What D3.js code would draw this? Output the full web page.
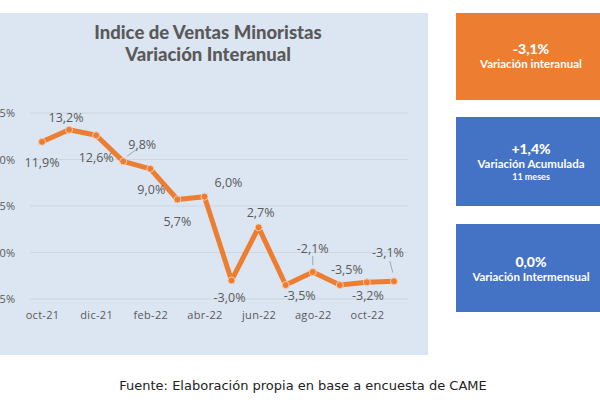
<!DOCTYPE html>
<html><head><meta charset="utf-8">
<script src="https://cdn.jsdelivr.net/npm/d3@7"></script>
<style>body{margin:0;background:#fff}svg{display:block}</style>
</head><body>
<svg id="c" width="600" height="400"></svg>
<script>
const months = ["oct-21","nov-21","dic-21","ene-22","feb-22","mar-22","abr-22","may-22","jun-22","jul-22","ago-22","sep-22","oct-22","nov-22"];
const values = [11.9,13.2,12.6,9.8,9.0,5.7,6.0,-3.0,2.7,-3.5,-2.1,-3.5,-3.2,-3.1];
const yTicks = [-5,0,5,10,15];
const xTickLabels = ["oct-21","dic-21","feb-22","abr-22","jun-22","ago-22","oct-22"];
const titleLines = ["Indice de Ventas Minoristas","Variación Interanual"];
const boxValues = ["-3,1%","+1,4%","0,0%"];
const boxLabels = [["Variación interanual"],["Variación Acumulada","11 meses"],["Variación Intermensual"]];
const source = "Fuente: Elaboración propia en base a encuesta de CAME";
// label placement (dx, dy, leader)
const labelPlacement = [[0,21,0],[-3,-12,0],[0,22,0],[19,-17,1],[1,21,0],[0,22,0],[24,-14,0],[-2,17,0],[2,-15,0],[14,11,0],[0,-23,1],[7,-15,0],[1,13,0],[-6,-29,1]];

const svg = d3.select("#c");
const fmt = v => d3.format(".1f")(v).replace(".", ",").replace("\u2212","-") + "%";

// panel
svg.append("rect").attr("x",0).attr("y",13).attr("width",428).attr("height",342).attr("fill","#dce6f2");

// title
svg.append("g").selectAll("text").data(titleLines).join("text")
  .attr("x",208).attr("y",(d,i)=>39+i*22).attr("text-anchor","middle")
  .attr("font-family","Lato").attr("font-weight","900").attr("font-size",18.5)
  .attr("fill","#595959").text(d=>d);

const x = d3.scalePoint().domain(months).range([42,394]);
const y = d3.scaleLinear().domain([-5,15]).range([299,113]);

// grid
svg.append("g").selectAll("line").data(yTicks).join("line")
  .attr("x1",30).attr("x2",408).attr("y1",d=>y(d)).attr("y2",d=>y(d))
  .attr("stroke","#cfd6de").attr("stroke-width",1);

// y axis
const ya = svg.append("g").attr("transform","translate(15,0)")
  .call(d3.axisLeft(y).tickValues(yTicks).tickSize(0).tickPadding(0).tickFormat(d=>d+"%"));
ya.select(".domain").remove();
ya.selectAll("text").attr("font-family","Open Sans").attr("font-size",11).attr("fill","#595959");

// x axis
const xa = svg.append("g").attr("transform","translate(0,311)")
  .call(d3.axisBottom(x).tickValues(xTickLabels).tickSize(0).tickPadding(0));
xa.select(".domain").remove();
xa.selectAll("text").attr("font-family","Open Sans").attr("font-size",11).attr("fill","#595959").attr("letter-spacing","0.3px");

// line
const data = months.map((m,i)=>({m, v: values[i], p: labelPlacement[i]}));
svg.append("path").datum(data)
  .attr("d", d3.line().x(d=>x(d.m)).y(d=>y(d.v)))
  .attr("fill","none").attr("stroke","#ed7d31").attr("stroke-width",5).attr("stroke-linejoin","round");
svg.append("g").selectAll("circle").data(data).join("circle")
  .attr("cx",d=>x(d.m)).attr("cy",d=>y(d.v)).attr("r",3.5)
  .attr("fill","#ed7d31").attr("stroke","#f8cbad").attr("stroke-width",1);

// leader lines
svg.append("g").selectAll("line").data(data.filter(d=>d.p[2])).join("line")
  .attr("x1",d=>x(d.m)+d.p[0]*0.2).attr("y1",d=>y(d.v)+d.p[1]*0.3)
  .attr("x2",d=>x(d.m)+d.p[0]*0.7).attr("y2",d=>y(d.v)+d.p[1]*0.7)
  .attr("stroke","#a6a6a6").attr("stroke-width",1);

// data labels
svg.append("g").selectAll("text").data(data).join("text")
  .attr("x",d=>x(d.m)+d.p[0]).attr("y",d=>y(d.v)+d.p[1]).attr("dy","0.35em")
  .attr("text-anchor","middle").attr("font-family","Open Sans").attr("font-size",12.5)
  .attr("fill","#595959").text(d=>fmt(d.v));

// boxes
const boxes = [{y:13,h:87,c:"#ed7d31"},{y:117,h:89,c:"#4472c4"},{y:224,h:88,c:"#4472c4"}];
const bg = svg.append("g").selectAll("g").data(boxes).join("g");
bg.append("rect").attr("x",456).attr("y",d=>d.y).attr("width",150).attr("height",d=>d.h).attr("fill",d=>d.c);
const centersY = [[49,64],[149,164,177],[262,277]];
bg.each(function(d,i){
  const g = d3.select(this);
  g.append("text").attr("x",531).attr("y",centersY[i][0]).attr("dy","0.35em").attr("text-anchor","middle")
    .attr("font-family","Lato").attr("font-weight","900").attr("font-size",14).attr("fill","#fff").text(boxValues[i]);
  boxLabels[i].forEach((t,j)=>{
    g.append("text").attr("x",531).attr("y",centersY[i][j+1]).attr("dy","0.35em").attr("text-anchor","middle")
      .attr("font-family","Lato").attr("font-weight","700").attr("font-size",j===0?11.5:9).attr("fill","#fff").text(t);
  });
});

// source
svg.append("text").attr("x",303).attr("y",385).attr("dy","0.35em").attr("text-anchor","middle")
  .attr("font-family","DejaVu Sans").attr("font-size",13).attr("fill","#222").text(source);
</script>
</body></html>
